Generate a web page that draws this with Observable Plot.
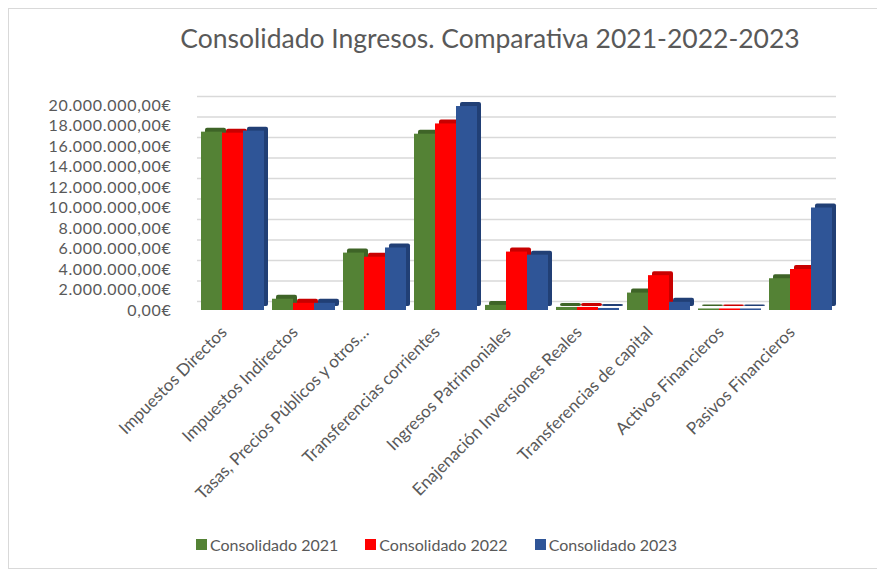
<!DOCTYPE html>
<html>
<head>
<meta charset="utf-8">
<script src="https://cdn.jsdelivr.net/npm/d3@7"></script>
<script src="https://cdn.jsdelivr.net/npm/@observablehq/plot@0.6"></script>
<style>
  html, body { margin: 0; padding: 0; background: #fff; overflow: hidden; }
  #wrap { position: relative; width: 877px; height: 571px; overflow: hidden; font-family: Lato, "Open Sans", sans-serif; color: #595959; }
  #frame { position: absolute; left: 8px; top: 8px; width: 900px; height: 561px; border: 1px solid #d9d9d9; box-sizing: border-box; }
  #title { position: absolute; left: 0; width: 980px; top: 22px; text-align: center; font-size: 26.5px; color: #595959; }
  #chart { position: absolute; left: 0; top: 70px; }
  #legend { position: absolute; top: 535px; left: 196px; display: flex; gap: 27px; font-family: Lato, sans-serif; font-size: 16px; color: #595959; align-items: center; }
  #legend .item { display: flex; align-items: center; gap: 3px; }
  #legend .sw { width: 11px; height: 11px; display: inline-block; }
  #chart svg g[aria-label="y-axis tick label"] text { letter-spacing: 0.7px; }
</style>
</head>
<body>
<div id="wrap">
  <div id="frame"></div>
  <div id="title">Consolidado Ingresos. Comparativa 2021-2022-2023</div>
  <div id="chart"></div>
  <div id="legend"></div>
</div>
<script>
const categories = [
  "Impuestos Directos",
  "Impuestos Indirectos",
  "Tasas, Precios Públicos y otros…",
  "Transferencias corrientes",
  "Ingresos Patrimoniales",
  "Enajenación Inversiones Reales",
  "Transferencias de capital",
  "Activos Financieros",
  "Pasivos Financieros"
];
const series = ["Consolidado 2021", "Consolidado 2022", "Consolidado 2023"];
const colors = ["#548235", "#ff0000", "#2f5597"];
const depthColors = ["#3e6427", "#c80000", "#213f75"];
const values2021 = [17400000, 1100000, 5600000, 17200000, 500000, 300000, 1700000, 150000, 3100000];
const values2022 = [17300000, 700000, 5200000, 18200000, 5700000, 300000, 3400000, 150000, 4000000];
const values2023 = [17500000, 700000, 6100000, 19900000, 5400000, 200000, 800000, 150000, 10000000];
const yTicks = [0, 2e6, 4e6, 6e6, 8e6, 10e6, 12e6, 14e6, 16e6, 18e6, 20e6];

const allValues = [values2021, values2022, values2023];
const data = [];
categories.forEach((c, i) => {
  series.forEach((s, j) => data.push({category: c, series: s, value: allValues[j][i]}));
});

const loc = d3.formatLocale({decimal: ",", thousands: ".", grouping: [3], currency: ["", "€"]});
const fmt = loc.format("$,.2f");

const chart = Plot.plot({
  width: 877,
  height: 455,
  marginTop: 35,
  marginBottom: 215,
  marginLeft: 195,
  marginRight: 40,
  style: {fontFamily: "Lato, 'Open Sans', sans-serif", fontSize: "16px", color: "#595959", background: "transparent"},
  fx: {domain: categories, padding: 0, label: null, axis: null},
  x: {domain: series, axis: null, paddingInner: 0, paddingOuter: 0.17},
  y: {domain: [0, 20e6], ticks: yTicks, tickFormat: fmt, label: null, tickSize: 0, tickPadding: 26},
  color: {domain: series, range: colors},
  marks: [
    Plot.ruleY(yTicks, {stroke: "#d9d9d9", strokeWidth: 1.5, dy: -9}),
    Plot.barY(data, {fx: "category", x: "series", y: "value", fill: d => depthColors[series.indexOf(d.series)], dx: 4, dy: -4, rx: 2}),
    Plot.barY(data, {fx: "category", x: "series", y: "value", fill: "series"}),
    Plot.axisFx({anchor: "bottom", tickRotate: -45, tickSize: 0, tickPadding: 10, dx: -9, dy: 9, fontSize: 17, label: null})
  ]
});
document.getElementById("chart").appendChild(chart);

const legend = document.getElementById("legend");
series.forEach((s, i) => {
  const it = document.createElement("div");
  it.className = "item";
  const sw = document.createElement("span");
  sw.className = "sw";
  sw.style.background = colors[i];
  const t = document.createElement("span");
  t.textContent = s;
  it.appendChild(sw); it.appendChild(t);
  legend.appendChild(it);
});
</script>
</body>
</html>
